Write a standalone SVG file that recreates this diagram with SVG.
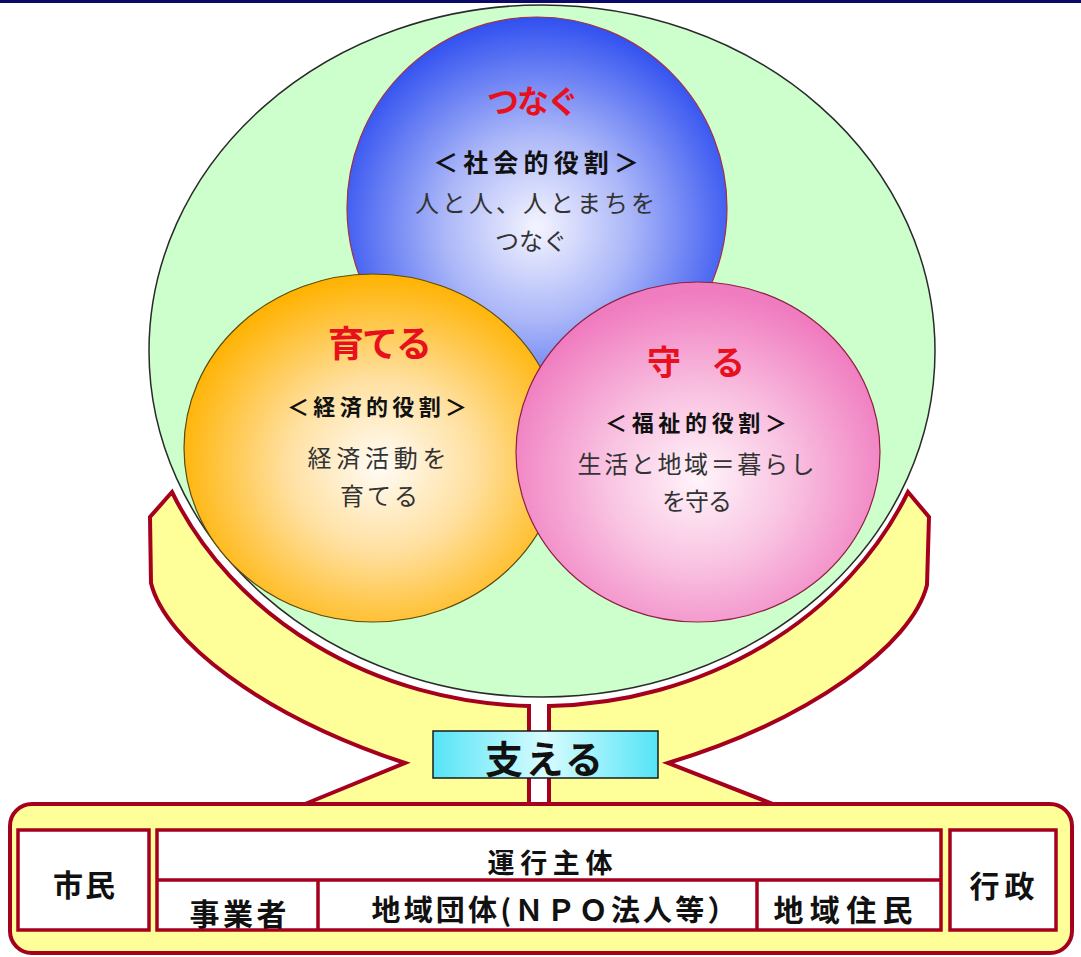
<svg xmlns="http://www.w3.org/2000/svg" width="1081" height="957" viewBox="0 0 1081 957">
<style>
.t{font-family:"Noto Sans CJK JP","Noto Sans",sans-serif;text-anchor:middle}
.title{font-weight:bold;fill:#e8101c}
.role{font-weight:bold;fill:#111}
.body{fill:#333}
.lab{font-weight:bold;fill:#111}
.cup{fill:#ffff99;stroke:#a5001e;stroke-width:4;stroke-linejoin:miter}
.box{fill:#ffffff;stroke:#a5001e;stroke-width:3.5}
</style>
<defs>
<radialGradient id="gBlue" cx="0.5" cy="0.55" r="0.55">
<stop offset="0" stop-color="#f4f4ff"/>
<stop offset="0.45" stop-color="#aab6f8"/>
<stop offset="1" stop-color="#3050f0"/>
</radialGradient>
<radialGradient id="gOrange" cx="0.52" cy="0.55" r="0.55">
<stop offset="0" stop-color="#fffcf6"/>
<stop offset="0.45" stop-color="#ffe0a0"/>
<stop offset="1" stop-color="#ffb200"/>
</radialGradient>
<radialGradient id="gPink" cx="0.5" cy="0.58" r="0.55">
<stop offset="0" stop-color="#fff4fa"/>
<stop offset="0.45" stop-color="#f9c4e2"/>
<stop offset="1" stop-color="#f07cc0"/>
</radialGradient>
<linearGradient id="gCyan" x1="0" y1="0" x2="1" y2="0">
<stop offset="0" stop-color="#55e4f6"/>
<stop offset="0.5" stop-color="#d8fcff"/>
<stop offset="1" stop-color="#55e4f6"/>
</linearGradient>
</defs>
<rect x="0" y="0" width="1081" height="957" fill="#ffffff"/>
<rect x="0" y="0" width="1081" height="3" fill="#0a0a66"/>

<g id="support">
<path class="cup" d="M172,492 L150,517 L151,583 C165,640 260,715 405,763 L305,804 L529,804 L529,706 A401 354 0 0 1 172,492 Z"/>
<path class="cup" d="M908,492 L929,517 L927,585 C912,645 810,720 668,763 L773,804 L549,804 L549,706 A401 354 0 0 0 908,492 Z"/>
</g>

<g id="base">
<rect x="10" y="804" width="1062" height="149" rx="22" ry="22" fill="#ffff99" stroke="#a5001e" stroke-width="4"/>
</g>

<g id="outer-circle">
<ellipse cx="542" cy="351" rx="393" ry="346" fill="#ccffcc" stroke="#2a2a2a" stroke-width="1.5"/>
</g>

<g id="node-tsunagu">
<ellipse cx="537" cy="208" rx="190" ry="191" fill="url(#gBlue)" stroke="#a0304a" stroke-width="1.2"/>
<text class="t title" x="533" y="113" font-size="32" textLength="92">つなぐ</text>
<text class="t role" x="536" y="172" font-size="25" textLength="206">＜社会的役割＞</text>
<text class="t body" x="535" y="212" font-size="24" textLength="240">人と人、人とまちを</text>
<text class="t body" x="531" y="250" font-size="24">つなぐ</text>
</g>

<g id="node-sodateru">
<ellipse cx="373" cy="448" rx="189" ry="174" fill="url(#gOrange)" stroke="#5a4a10" stroke-width="1.2"/>
<text class="t title" x="380" y="357" font-size="36" textLength="104">育てる</text>
<text class="t role" x="377" y="415" font-size="22" textLength="180">＜経済的役割＞</text>
<text class="t body" x="377" y="467" font-size="24" textLength="139">経済活動を</text>
<text class="t body" x="379" y="505" font-size="24" textLength="78">育てる</text>
</g>

<g id="node-mamoru">
<ellipse cx="698" cy="452" rx="182" ry="170" fill="url(#gPink)" stroke="#902040" stroke-width="1.2"/>
<text class="t title" x="696" y="375" font-size="34" textLength="98">守　る</text>
<text class="t role" x="696" y="431" font-size="22" textLength="182">＜福祉的役割＞</text>
<text class="t body" x="696" y="473" font-size="24" textLength="237">生活と地域＝暮らし</text>
<text class="t body" x="697" y="510" font-size="24" textLength="70">を守る</text>
</g>

<g id="node-sasaeru">
<rect x="433" y="731" width="225" height="47" fill="url(#gCyan)" stroke="#1a1a1a" stroke-width="1.5"/>
<text class="t lab" x="544" y="773" font-size="38" textLength="118">支える</text>
</g>

<g id="node-shimin">
<rect class="box" x="18" y="830" width="131" height="100"/>
<text class="t lab" x="84" y="896" font-size="30" textLength="62">市民</text>
</g>

<g id="node-unkou">
<rect class="box" x="157" y="830" width="784" height="100"/>
<line x1="157" y1="880" x2="941" y2="880" stroke="#a5001e" stroke-width="3.5"/>
<line x1="318" y1="880" x2="318" y2="930" stroke="#a5001e" stroke-width="3.5"/>
<line x1="757" y1="880" x2="757" y2="930" stroke="#a5001e" stroke-width="3.5"/>
<text class="t lab" x="550" y="873" font-size="27" textLength="125">運行主体</text>
<text class="t lab" x="238" y="925" font-size="30" textLength="97">事業者</text>
<text class="t lab" x="554" y="921" font-size="29" textLength="365">地域団体(ＮＰＯ法人等）</text>
<text class="t lab" x="843" y="921" font-size="30" textLength="139">地域住民</text>
</g>

<g id="node-gyousei">
<rect class="box" x="950" y="830" width="106" height="100"/>
<text class="t lab" x="1002" y="897" font-size="30" textLength="65">行政</text>
</g>
</svg>
